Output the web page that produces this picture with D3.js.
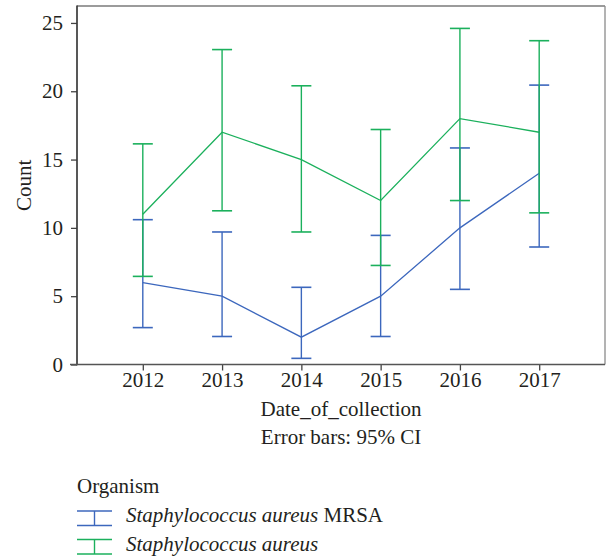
<!DOCTYPE html>
<html>
<head>
<meta charset="utf-8">
<script src="https://cdn.jsdelivr.net/npm/d3@7"></script>
<style>
  html, body { margin: 0; padding: 0; background: #fff; }
  svg text { font-family: "Liberation Serif", "Times New Roman", serif; fill: #231f20; }
</style>
</head>
<body>
<svg id="chart" width="606" height="558" font-family="Liberation Serif, serif"></svg>
<script>
// Collection years
const years = ["2012", "2013", "2014", "2015", "2016", "2017"];

// Staphylococcus aureus MRSA: counts with 95% CI
const mrsaCount = [6, 5, 2, 5, 10, 14];
const mrsaLower = [2.7, 2.05, 0.45, 2.05, 5.5, 8.6];
const mrsaUpper = [10.6, 9.7, 5.65, 9.45, 15.85, 20.45];

// Staphylococcus aureus: counts with 95% CI
const saCount = [11, 17, 15, 12, 18, 17];
const saLower = [6.45, 11.25, 9.7, 7.25, 12.0, 11.1];
const saUpper = [16.15, 23.05, 20.4, 17.2, 24.6, 23.7];

const yTicks = [0, 5, 10, 15, 20, 25];

const blue = "#3c67bd";
const green = "#1bb05c";
const serif = "Liberation Serif, serif";

const svg = d3.select("#chart");
const plotL = 77, plotR = 605, plotT = 6, plotB = 364.5;

const x = d3.scalePoint().domain(years).range([plotL, plotR]).padding(0.83);
const y = d3.scaleLinear().domain([0, 26.24]).range([plotB, plotT]);

const series = [
  { name: "mrsa", color: blue, count: mrsaCount, lo: mrsaLower, hi: mrsaUpper },
  { name: "sa", color: green, count: saCount, lo: saLower, hi: saUpper }
];

// Frame: light top/right, darker axes
svg.append("line").attr("x1", plotL).attr("x2", plotR).attr("y1", plotT).attr("y2", plotT)
  .attr("stroke", "#7a7a7a").attr("stroke-width", 1.3);
svg.append("line").attr("x1", plotR).attr("x2", plotR).attr("y1", plotT).attr("y2", plotB)
  .attr("stroke", "#8a8a8a").attr("stroke-width", 1.3);

// Y axis
const yAxis = svg.append("g").attr("transform", `translate(${plotL},0)`)
  .call(d3.axisLeft(y).tickValues(yTicks).tickSize(6).tickPadding(8).tickSizeOuter(0))
  .attr("font-family", serif).attr("font-size", 21);
yAxis.select(".domain").remove();
yAxis.selectAll(".tick line").attr("stroke", "#444").attr("stroke-width", 1.3);
yAxis.selectAll(".tick text").attr("fill", "#231f20");
svg.append("line").attr("x1", plotL).attr("x2", plotL).attr("y1", plotT - 0.6).attr("y2", plotB + 0.8)
  .attr("stroke", "#3a3a3a").attr("stroke-width", 1.7);

// X axis
const xAxis = svg.append("g").attr("transform", `translate(0,${plotB})`)
  .call(d3.axisBottom(x).tickSize(6).tickPadding(2).tickSizeOuter(0))
  .attr("font-family", serif).attr("font-size", 21);
xAxis.select(".domain").remove();
xAxis.selectAll(".tick line").attr("stroke", "#444").attr("stroke-width", 1.3);
xAxis.selectAll(".tick text").attr("fill", "#231f20");
svg.append("line").attr("x1", plotL - 7).attr("x2", plotR).attr("y1", plotB).attr("y2", plotB)
  .attr("stroke", "#555").attr("stroke-width", 1.6);

// Axis titles
svg.append("text").attr("transform", `translate(31,${(plotT + plotB) / 2}) rotate(-90)`)
  .attr("text-anchor", "middle").attr("font-size", 21).text("Count");
svg.append("text").attr("x", (plotL + plotR) / 2).attr("y", 416)
  .attr("text-anchor", "middle").attr("font-size", 21).text("Date_of_collection");
svg.append("text").attr("x", (plotL + plotR) / 2).attr("y", 444)
  .attr("text-anchor", "middle").attr("font-size", 21).text("Error bars: 95% CI");

// Error bars and mean lines
const capHalf = 10;
series.forEach(s => {
  const g = svg.append("g").attr("class", "series-" + s.name);
  const rows = years.map((yr, i) => ({ yr, v: s.count[i], lo: s.lo[i], hi: s.hi[i] }));
  g.selectAll("line.bar").data(rows).join("line").attr("class", "bar")
    .attr("x1", d => x(d.yr)).attr("x2", d => x(d.yr))
    .attr("y1", d => y(d.lo)).attr("y2", d => y(d.hi))
    .attr("stroke", s.color).attr("stroke-width", 1.4);
  g.selectAll("line.capHi").data(rows).join("line").attr("class", "capHi")
    .attr("x1", d => x(d.yr) - capHalf).attr("x2", d => x(d.yr) + capHalf)
    .attr("y1", d => y(d.hi)).attr("y2", d => y(d.hi))
    .attr("stroke", s.color).attr("stroke-width", 1.6);
  g.selectAll("line.capLo").data(rows).join("line").attr("class", "capLo")
    .attr("x1", d => x(d.yr) - capHalf).attr("x2", d => x(d.yr) + capHalf)
    .attr("y1", d => y(d.lo)).attr("y2", d => y(d.lo))
    .attr("stroke", s.color).attr("stroke-width", 1.6);
  g.append("path").datum(rows)
    .attr("d", d3.line().x(d => x(d.yr)).y(d => y(d.v)))
    .attr("fill", "none").attr("stroke", s.color).attr("stroke-width", 1.3);
});

// Legend
svg.append("text").attr("x", 77).attr("y", 493).attr("font-size", 21).text("Organism");
const legendItems = [
  { color: blue, italic: "Staphylococcus aureus", plain: " MRSA", yTop: 511, yBot: 525.5, base: 522 },
  { color: green, italic: "Staphylococcus aureus", plain: "", yTop: 539.5, yBot: 554, base: 551 }
];
legendItems.forEach(it => {
  const g = svg.append("g");
  const x0 = 77, x1 = 112, xm = (x0 + x1) / 2;
  g.append("line").attr("x1", x0).attr("x2", x1).attr("y1", it.yTop).attr("y2", it.yTop)
    .attr("stroke", it.color).attr("stroke-width", 1.6);
  g.append("line").attr("x1", x0).attr("x2", x1).attr("y1", it.yBot).attr("y2", it.yBot)
    .attr("stroke", it.color).attr("stroke-width", 1.6);
  g.append("line").attr("x1", xm).attr("x2", xm).attr("y1", it.yTop).attr("y2", it.yBot)
    .attr("stroke", it.color).attr("stroke-width", 1.4);
  const t = g.append("text").attr("x", 126).attr("y", it.base).attr("font-size", 21);
  t.append("tspan").attr("font-style", "italic").text(it.italic);
  if (it.plain) t.append("tspan").text(it.plain);
});
</script>
</body>
</html>
